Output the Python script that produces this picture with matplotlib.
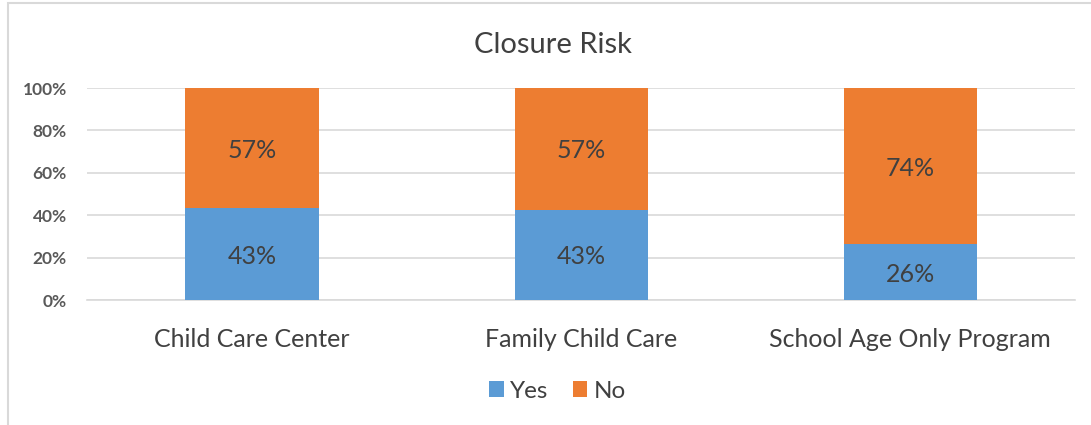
"""
Closure Risk - stacked percentage bar chart
"""
import matplotlib
matplotlib.use('Agg')
import matplotlib.pyplot as plt
import numpy as np
from matplotlib.patches import Rectangle
from matplotlib.ticker import FuncFormatter

categories = ['Child Care Center', 'Family Child Care', 'School Age Only Program']
yes_values = [43.4, 42.6, 26.3]
no_values = [56.6, 57.4, 73.7]
yes_labels = ['43%', '43%', '26%']
no_labels = ['57%', '57%', '74%']
y_ticks = [0, 20, 40, 60, 80, 100]

BLUE = '#5b9bd5'
ORANGE = '#ed7d31'

plt.rcParams['font.family'] = ['Lato', 'DejaVu Sans']

fig = plt.figure(figsize=(10.91, 4.25), dpi=100)
ax = fig.add_axes([0.0802, 0.2941, 0.905, 0.4988])

x = np.arange(len(categories))
ax.bar(x, yes_values, width=0.405, color=BLUE, label='Yes', zorder=3)
ax.bar(x, no_values, width=0.405, bottom=yes_values, color=ORANGE, label='No', zorder=3)

for i in range(len(categories)):
    ax.text(x[i], yes_values[i] / 2, yes_labels[i], ha='center', va='center_baseline',
            fontsize=18, color='#404040', zorder=4)
    ax.text(x[i], yes_values[i] + no_values[i] / 2, no_labels[i], ha='center',
            va='center_baseline', fontsize=18, color='#404040', zorder=4)

ax.set_xlim(-0.5, len(categories) - 0.5)
ax.set_ylim(0, 100)
ax.set_yticks(y_ticks)
ax.yaxis.set_major_formatter(FuncFormatter(lambda v, _: f"{v:.0f}%"))
ax.set_xticks(x)
ax.set_xticklabels(categories, fontsize=18, color='#404040')
ax.tick_params(axis='y', labelsize=12.5, labelcolor='#595959', length=0, pad=15)
ax.tick_params(axis='x', length=0, pad=20)
for lab in ax.get_yticklabels():
    lab.set_fontweight('bold')

ax.grid(axis='y', color='#d9d9d9', linewidth=1.2, zorder=0)
for side in ['top', 'right', 'left']:
    ax.spines[side].set_visible(False)
ax.spines['bottom'].set_color('#d9d9d9')
ax.spines['bottom'].set_linewidth(1.2)

fig.text(0.507, 0.893, 'Closure Risk', ha='center', va='center', fontsize=21, color='#404040')

fig.legend(loc='center', bbox_to_anchor=(0.511, 0.08), ncol=2, frameon=False,
           fontsize=17.5, handlelength=0.6, handleheight=0.6, handletextpad=0.25,
           columnspacing=1.0, labelcolor='#404040')

# chart frame
fig.patches.append(Rectangle((0.0075, -0.01), 1.1, 1.003, transform=fig.transFigure,
                             fill=False, edgecolor='#d9d9d9', linewidth=1.5))

fig.savefig('out.png', dpi=100)
